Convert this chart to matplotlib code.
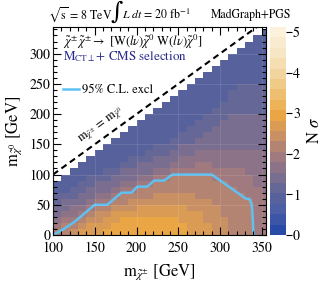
import numpy as np
import matplotlib
matplotlib.use("Agg")
import matplotlib.pyplot as plt
from matplotlib.colors import LinearSegmentedColormap, Normalize

# chargino mass bins (lower edge, GeV)
m_chargino = [100, 110, 120, 130, 140, 150, 160, 170, 180, 190, 200, 210, 220,
              230, 240, 250, 260, 270, 280, 290, 300, 310, 320, 330, 340, 350]
# neutralino mass bin width (GeV), bins start at 0
m_neutralino_step = 10

# N sigma per chargino mass, neutralino mass from 0 upward
nsigma = [
    [2.1, 1.85, 1.6, 1.45, 1.3, 1.2, 1.05, 0.95, 0.9],
    [2.3, 2.05, 1.8, 1.6, 1.45, 1.3, 1.15, 1.0, 0.95, 0.9],
    [2.5, 2.3, 2.0, 1.75, 1.55, 1.4, 1.25, 1.1, 1.0, 0.95, 0.9],
    [2.6, 2.45, 2.25, 1.95, 1.7, 1.5, 1.35, 1.2, 1.05, 0.95, 0.9, 0.9],
    [2.7, 2.6, 2.45, 2.2, 1.95, 1.7, 1.5, 1.35, 1.2, 1.05, 0.95, 0.9, 0.9],
    [2.8, 2.7, 2.55, 2.35, 2.15, 1.9, 1.65, 1.45, 1.3, 1.15, 1.0, 0.95, 0.9, 0.9],
    [2.9, 2.8, 2.65, 2.45, 2.2, 1.95, 1.7, 1.5, 1.35, 1.2, 1.05, 0.95, 0.9, 0.9, 0.9],
    [3.0, 2.9, 2.8, 2.6, 2.4, 2.15, 1.9, 1.65, 1.45, 1.3, 1.15, 1.0, 0.95, 0.9, 0.9, 0.9],
    [3.0, 3.0, 2.85, 2.7, 2.5, 2.3, 2.1, 1.9, 1.65, 1.45, 1.3, 1.15, 1.0, 0.95, 0.9, 0.9, 0.9],
    [3.05, 3.0, 2.9, 2.75, 2.55, 2.35, 2.15, 1.95, 1.7, 1.5, 1.35, 1.2, 1.05, 0.95, 0.9, 0.9,
     0.9, 0.9],
    [3.05, 3.0, 2.9, 2.8, 2.6, 2.45, 2.25, 2.05, 1.9, 1.65, 1.45, 1.3, 1.15, 1.0, 0.95, 0.9,
     0.9, 0.9, 0.9],
    [3.05, 3.0, 2.9, 2.8, 2.65, 2.5, 2.3, 2.1, 1.95, 1.7, 1.5, 1.35, 1.2, 1.05, 0.95, 0.9,
     0.9, 0.9, 0.9, 0.9],
    [3.0, 3.0, 2.9, 2.8, 2.65, 2.5, 2.35, 2.2, 2.05, 1.9, 1.65, 1.45, 1.3, 1.15, 1.05, 0.95,
     0.9, 0.9, 0.9, 0.9, 0.9],
    [3.0, 2.95, 2.9, 2.8, 2.65, 2.5, 2.4, 2.25, 2.1, 1.95, 1.7, 1.5, 1.35, 1.2, 1.1, 1.0,
     0.95, 0.9, 0.9, 0.9, 0.9, 0.9],
    [2.95, 2.9, 2.85, 2.75, 2.6, 2.5, 2.4, 2.3, 2.2, 2.05, 1.9, 1.7, 1.5, 1.35, 1.2, 1.1,
     1.0, 0.95, 0.9, 0.9, 0.9, 0.9, 0.9],
    [2.85, 2.85, 2.8, 2.7, 2.6, 2.5, 2.4, 2.3, 2.2, 2.05, 1.9, 1.75, 1.6, 1.45, 1.3, 1.2,
     1.1, 1.0, 0.95, 0.9, 0.9, 0.9, 0.9, 0.9],
    [2.8, 2.75, 2.7, 2.65, 2.55, 2.45, 2.35, 2.25, 2.15, 2.05, 1.9, 1.75, 1.6, 1.5, 1.35,
     1.25, 1.15, 1.05, 1.0, 0.95, 0.9, 0.9, 0.9, 0.9, 0.9],
    [2.7, 2.7, 2.65, 2.6, 2.5, 2.4, 2.3, 2.2, 2.15, 2.05, 1.9, 1.8, 1.65, 1.55, 1.4, 1.3,
     1.2, 1.1, 1.05, 1.0, 0.95, 0.9, 0.9, 0.9, 0.9, 0.9],
    [2.6, 2.6, 2.55, 2.5, 2.45, 2.35, 2.3, 2.2, 2.1, 2.05, 1.9, 1.8, 1.7, 1.6, 1.5, 1.4,
     1.3, 1.2, 1.15, 1.1, 1.0, 0.95, 0.9, 0.9, 0.9, 0.9, 0.9],
    [2.5, 2.5, 2.45, 2.4, 2.35, 2.3, 2.2, 2.15, 2.1, 1.95, 1.85, 1.75, 1.65, 1.6, 1.5, 1.45,
     1.4, 1.3, 1.25, 1.2, 1.1, 1.0, 0.95, 0.9, 0.9, 0.9, 0.9, 0.9],
    [2.4, 2.4, 2.35, 2.3, 2.25, 2.2, 2.15, 2.1, 2.05, 1.9, 1.85, 1.75, 1.65, 1.6, 1.5, 1.45,
     1.4, 1.35, 1.3, 1.25, 1.2, 1.1, 1.0, 0.95, 0.9, 0.9, 0.9, 0.9, 0.9],
    [2.3, 2.3, 2.25, 2.2, 2.15, 2.1, 2.05, 2.05, 1.95, 1.9, 1.8, 1.7, 1.65, 1.6, 1.5, 1.45,
     1.4, 1.35, 1.3, 1.3, 1.25, 1.2, 1.15, 1.05, 0.95, 0.9, 0.9, 0.9, 0.9, 0.9],
    [2.25, 2.25, 2.2, 2.15, 2.1, 2.05, 2.05, 1.95, 1.9, 1.85, 1.8, 1.7, 1.65, 1.6, 1.5, 1.45,
     1.4, 1.35, 1.3, 1.3, 1.25, 1.25, 1.2, 1.15, 1.05, 0.95, 0.9, 0.9, 0.9, 0.9, 0.9],
    [2.2, 2.2, 2.15, 2.1, 2.05, 2.05, 1.95, 1.9, 1.85, 1.8, 1.75, 1.7, 1.65, 1.6, 1.5, 1.45,
     1.4, 1.35, 1.3, 1.3, 1.25, 1.25, 1.2, 1.2, 1.1, 1.0, 0.95, 0.9, 0.9, 0.9, 0.9, 0.9],
    [1.95, 1.95, 1.9, 1.9, 1.85, 1.85, 1.8, 1.8, 1.75, 1.75, 1.7, 1.65, 1.6, 1.55, 1.5, 1.45,
     1.4, 1.35, 1.3, 1.3, 1.25, 1.25, 1.2, 1.2, 1.1, 1.0, 0.95, 0.9, 0.9, 0.9, 0.9, 0.9, 0.9],
    [1.9, 1.9, 1.9, 1.85, 1.85, 1.8, 1.8, 1.75, 1.75, 1.7, 1.7, 1.65, 1.6, 1.55, 1.5, 1.45,
     1.4, 1.35, 1.3, 1.3, 1.25, 1.25, 1.2, 1.2, 1.1, 1.0, 0.95, 0.9, 0.9, 0.9, 0.9, 0.9, 0.9,
     0.9],
]

# 95% C.L. exclusion line
excl_x = [100, 113, 126, 138, 150, 165, 182, 194, 201, 213, 221, 233, 243, 290, 331, 335,
          338, 339, 340]
excl_y = [0, 10, 22, 36, 50, 50, 70, 70, 80, 80, 90, 90, 100, 100, 60, 60, 50, 30, 0]

# colour scale anchors (N sigma -> colour)
cbar_levels = [0.0, 0.5, 1.0, 1.5, 2.0, 2.5, 3.0, 3.5, 4.0, 4.5, 5.12]
cbar_colors = ["#2a4aa8", "#4a5ea6", "#5f6598", "#84708c", "#a87d7a", "#cf9360",
               "#eca843", "#eebf70", "#f1d39b", "#f6e4c0", "#fbf1dd"]

plt.rcParams["font.family"] = "STIXGeneral"
plt.rcParams["mathtext.fontset"] = "stix"

W, H = 332, 287


def fx(x):
    return x / W


def fy(y):
    return 1 - y / H


fig = plt.figure(figsize=(W / 100, H / 100), dpi=100)
ax = fig.add_axes([fx(53), fy(235), (266 - 53) / W, (235 - 27) / H])
cax = fig.add_axes([fx(270), fy(235), 16 / W, (235 - 27) / H])

vmax = cbar_levels[-1]
cmap = LinearSegmentedColormap.from_list(
    "nsig", [(v / vmax, c) for v, c in zip(cbar_levels, cbar_colors)], N=20)

ncol = len(m_chargino)
nrow = max(len(c) for c in nsigma)
Z = np.full((nrow, ncol), np.nan)
for i, col in enumerate(nsigma):
    Z[:len(col), i] = col
xedges = m_chargino + [m_chargino[-1] + 10]
yedges = [j * m_neutralino_step for j in range(nrow + 1)]
mesh = ax.pcolormesh(xedges, yedges, np.ma.masked_invalid(Z), cmap=cmap,
                     norm=Normalize(0, vmax), linewidth=0, antialiased=False)

ax.grid(color="white", alpha=0.12, lw=0.6)
ax.set_axisbelow(False)

ax.plot([100, 360], [100, 360], color="black", ls=(0, (3, 2)), lw=1.5)
ax.plot(excl_x, excl_y, color="#5ec1f2", lw=1.8, label="95% C.L. excl")

ax.set_xlim(100, 355)
ax.set_ylim(0, 344)
ax.set_xticks([100, 150, 200, 250, 300, 350])
ax.set_yticks([0, 50, 100, 150, 200, 250, 300])
ax.set_xticks(np.arange(100, 356, 10), minor=True)
ax.set_yticks(np.arange(0, 345, 10), minor=True)
ax.tick_params(which="both", direction="in", top=True, right=True, labelsize=10,
               width=0.8, color="black")
ax.tick_params(which="major", length=6)
ax.tick_params(which="minor", length=3)
ax.tick_params(axis="x", pad=5)
ax.tick_params(axis="y", pad=2)

ax.set_xlabel(r"m$_{\tilde{\chi}^{\pm}}$ [GeV]", fontsize=12, labelpad=5)
ax.set_ylabel(r"m$_{\tilde{\chi}^{0}}$ [GeV]", fontsize=12, labelpad=4)

ax.text(158, 180, r"m$_{\tilde{\chi}^{\pm}}$ = m$_{\tilde{\chi}^{0}}$", rotation=36,
        fontsize=9, ha="center", va="center")

fig.text(fx(63), fy(42),
         r"$\tilde{\chi}^{\pm}\,\tilde{\chi}^{\pm} \rightarrow$ [W($l\nu$)$\tilde{\chi}^{0}$"
         r" W($l\nu$)$\tilde{\chi}^{0}$]", fontsize=9, ha="left", va="center")
fig.text(fx(63), fy(57), r"M$_{\mathrm{CT}\perp}$+ CMS selection", fontsize=9.4,
         color="#28288c", ha="left", va="center")
ax.legend(loc="center left", bbox_to_anchor=((63 - 53) / 213, (235 - 90) / 208),
          frameon=False, fontsize=9, handlelength=1.3, handletextpad=0.2,
          borderpad=0, borderaxespad=0)

fig.text(fx(112), fy(15), r"$\sqrt{\mathrm{s}}$ = 8 TeV", fontsize=8.6, ha="right",
         va="center")
fig.text(fx(117), fy(12), "\u222b", fontsize=17, ha="center", va="center",
         family="DejaVu Serif")
fig.text(fx(122), fy(15), r"$L\ dt$ = 20 fb$^{-1}$", fontsize=8.6, ha="left",
         va="center")
fig.text(fx(211), fy(15), "MadGraph+PGS", fontsize=8.5, ha="left", va="center")

cb = fig.colorbar(mesh, cax=cax)
cb.set_ticks([0, 1, 2, 3, 4, 5])
cb.outline.set_visible(False)
cax.tick_params(labelsize=10, length=4, width=0.8, pad=1)
fig.text(fx(315), fy(131), r"N $\sigma$", fontsize=12, rotation=90, ha="center",
         va="center")

fig.savefig("out.png", dpi=100)
